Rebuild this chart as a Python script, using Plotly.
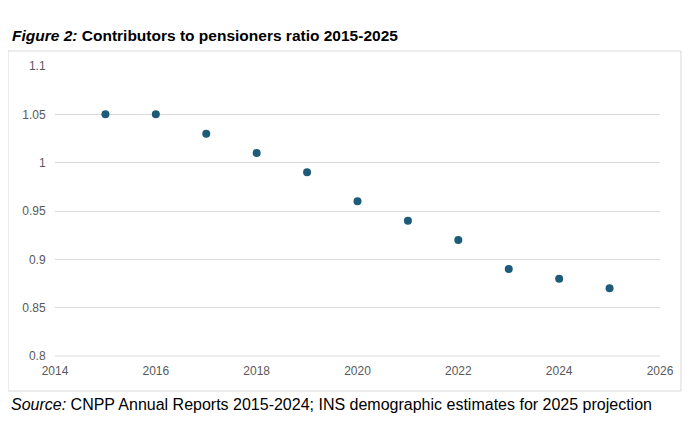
import plotly.graph_objects as go

years = [2015, 2016, 2017, 2018, 2019, 2020, 2021, 2022, 2023, 2024, 2025]
ratio = [1.05, 1.05, 1.03, 1.01, 0.99, 0.96, 0.94, 0.92, 0.89, 0.88, 0.87]
x_ticks = [2014, 2016, 2018, 2020, 2022, 2024, 2026]
y_ticks = [0.8, 0.85, 0.9, 0.95, 1, 1.05, 1.1]
y_labels = ['0.8', '0.85', '0.9', '0.95', '1', '1.05', '1.1']

fig = go.Figure()
fig.add_trace(go.Scatter(
    x=years, y=ratio, mode='markers',
    marker=dict(color='#1d5b78', size=8),
    showlegend=False, cliponaxis=False,
))

fig.update_layout(
    width=695, height=428,
    margin=dict(l=47, r=43, t=58, b=80),
    paper_bgcolor='white', plot_bgcolor='white',
    font=dict(family='Liberation Sans, Arial', size=12, color='#595959'),
    xaxis=dict(range=[2014, 2026], tickvals=x_ticks, showgrid=False, automargin=False,
               zeroline=False, showline=False, ticks='outside', ticklen=4, tickcolor='white'),
    yaxis=dict(range=[0.8, 1.1], tickvals=y_ticks, ticktext=y_labels, automargin=False,
               showgrid=True, gridcolor='#d9d9d9', zeroline=False, ticks='outside',
               ticklen=6, tickcolor='white'),
    shapes=[dict(type='rect', xref='paper', yref='paper',
                 x0=-0.0777, x1=1.0347, y0=-0.1207, y1=1.0517,
                 line=dict(color='#d9d9d9', width=1)),
            dict(type='line', xref='paper', yref='paper', x0=0, x1=1, y0=0, y1=0,
                 line=dict(color='#d9d9d9', width=1), layer='below')],
    annotations=[
        dict(text='<b><i>Figure 2:</i> Contributors to pensioners ratio 2015-2025</b>',
             xref='paper', yref='paper', x=-0.074, y=1.07, xanchor='left', yanchor='bottom',
             showarrow=False, font=dict(size=15.5, color='black')),
        dict(text='<i>Source:</i> CNPP Annual Reports 2015-2024; INS demographic estimates for 2025 projection',
             xref='paper', yref='paper', x=-0.076, y=-0.13, xanchor='left', yanchor='top',
             showarrow=False, font=dict(size=16, color='black')),
    ],
)

fig.write_html('out.html')
